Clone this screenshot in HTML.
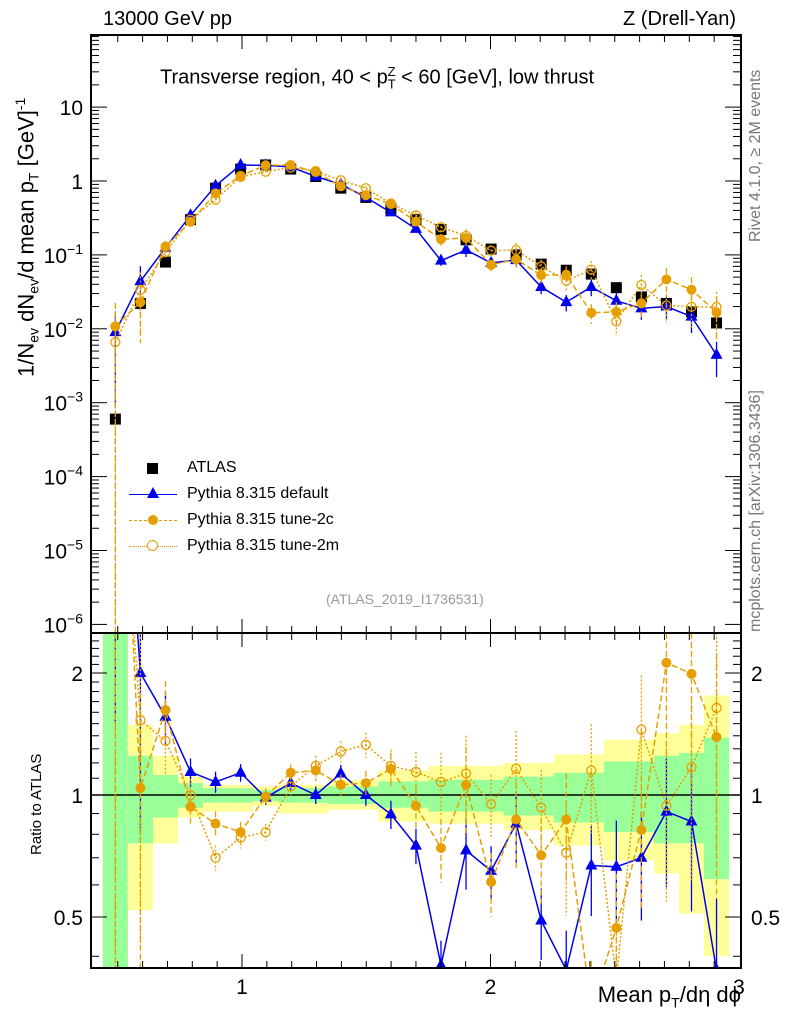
<!DOCTYPE html>
<html><head><meta charset="utf-8"><style>
html,body{margin:0;padding:0;background:#fff;width:786px;height:1024px;overflow:hidden;position:relative}
svg{font-family:"Liberation Sans",sans-serif;display:block;position:absolute;left:0;top:0;overflow:hidden}
</style></head><body>
<svg id="c" width="786" height="1024"></svg>
<script>
const atlas=[6e-4,0.022,0.08,0.30,0.80,1.45,1.65,1.45,1.15,0.80,0.60,0.42,0.30,0.22,0.16,0.12,0.10,0.075,0.062,0.055,0.036,0.027,0.022,0.017,0.012];
const rDefault=[15,2.0,1.56,1.14,1.077,1.135,0.985,1.07,1.0,1.13,1.0,0.896,0.75,0.38,0.73,0.65,0.85,0.49,0.37,0.67,0.665,0.70,0.91,0.86,0.37];
const r2c=[18,1.04,1.62,0.935,0.85,0.81,0.99,1.135,1.15,1.06,1.07,1.16,0.94,0.74,1.06,0.61,0.87,0.71,0.87,0.3,0.47,0.82,2.12,1.99,1.39];
const r2m=[11,1.53,1.36,1.0,0.70,0.785,0.81,1.05,1.18,1.28,1.33,1.18,1.14,1.077,1.13,0.95,1.16,0.93,0.72,1.15,0.35,1.45,0.94,1.17,1.64];
const errFrac=[0.9,0.6,0.15,0.08,0.06,0.05,0.04,0.04,0.05,0.05,0.06,0.08,0.1,0.15,0.2,0.15,0.2,0.2,0.25,0.25,0.3,0.3,0.35,0.4,0.5];
const yelUp=[10,1.49,1.25,1.11,1.06,1.06,1.05,1.06,1.06,1.09,1.09,1.15,1.15,1.18,1.18,1.18,1.20,1.20,1.26,1.26,1.37,1.37,1.42,1.49,1.76];
const yelDn=[0.1,0.52,0.76,0.88,0.91,0.91,0.94,0.90,0.90,0.92,0.92,0.86,0.86,0.85,0.85,0.85,0.82,0.82,0.75,0.75,0.69,0.69,0.64,0.51,0.40];
const grnUp=[10,1.25,1.12,1.07,1.04,1.04,1.03,1.04,1.04,1.05,1.05,1.08,1.08,1.09,1.09,1.09,1.11,1.11,1.135,1.135,1.21,1.21,1.25,1.27,1.385];
const grnDn=[0.1,0.76,0.88,0.93,0.957,0.957,0.966,0.957,0.957,0.95,0.95,0.93,0.93,0.91,0.91,0.91,0.89,0.89,0.855,0.855,0.81,0.81,0.76,0.76,0.62];
const binLo=0.44, binW=0.1008;
const xTicks=[1,2,3];
const yMainTicks=[-6,-5,-4,-3,-2,-1,0,1];
const yMainLabels=["10<tspan dy='-9' font-size='14'>−6</tspan>","10<tspan dy='-9' font-size='14'>−5</tspan>","10<tspan dy='-9' font-size='14'>−4</tspan>","10<tspan dy='-9' font-size='14'>−3</tspan>","10<tspan dy='-9' font-size='14'>−2</tspan>","10<tspan dy='-9' font-size='14'>−1</tspan>","1","10"];
const rTicks=[0.5,1,2];

const L=91,R=741,T=35,MB=633,RB=968;
const X=v=>242+(v-1)*248.5;
const Y=v=>181-Math.log10(v)*73.9;
const YR=v=>795-Math.log2(v)*122;
const svg=document.getElementById('c');
const NS='http://www.w3.org/2000/svg';
function el(t,a,p){const e=document.createElementNS(NS,t);for(const k in a)e.setAttribute(k,a[k]);(p||svg).appendChild(e);return e;}
const cx=i=>X(binLo+binW*(i+0.5));
const clampY=(y,lo,hi)=>Math.min(hi,Math.max(lo,y));

const defs=el('defs',{});
const c1=el('clipPath',{id:'cm'},defs);el('rect',{x:L,y:T,width:R-L,height:MB-T},c1);
const c2=el('clipPath',{id:'cr'},defs);el('rect',{x:L,y:MB,width:R-L,height:RB-MB},c2);

const gb=el('g',{'clip-path':'url(#cr)'});


atlas.forEach((_,i)=>{
 const x0=X(binLo+binW*i),x1=X(binLo+binW*(i+1));
 const yu=clampY(YR(yelUp[i]),MB,RB),yd=clampY(YR(yelDn[i]),MB,RB);
 const ry=el('rect',{x:x0,y:yu,width:x1-x0,height:yd-yu,fill:'#ffff99'},gb);
 
 
 const gu=clampY(YR(grnUp[i]),MB,RB),gd=clampY(YR(grnDn[i]),MB,RB);
 const rg=el('rect',{x:x0,y:gu,width:x1-x0,height:gd-gu,fill:'#99ff99'},gb);
 
 
});
el('line',{x1:L,x2:R,y1:YR(1),y2:YR(1),stroke:'#000','stroke-width':1.5});

const series=[
 {r:rDefault,col:'#0000ee',dash:'',mk:'tri',name:'pythia-default'},
 {r:r2c,col:'#e69f00',dash:'6,3',mk:'dot',name:'pythia-tune-2c'},
 {r:r2m,col:'#e69f00',dash:'2,2',mk:'ring',name:'pythia-tune-2m'}];
function marker(g,t,x,y,col){
 if(t==='tri')return el('path',{d:`M${x},${y-7}L${x+6},${y+4}L${x-6},${y+4}Z`,fill:col},g);
 if(t==='dot')return el('circle',{cx:x,cy:y,r:5,fill:col},g);
 return el('circle',{cx:x,cy:y,r:4.5,fill:'none',stroke:col,'stroke-width':1.3},g);
}
function drawPanel(clip,yf,valf,isRatio,lo,hi){
 const g=el('g',{'clip-path':`url(#${clip})`});
 
 
 series.forEach(s=>{
  const sg=el('g',{},g);
  
  
  const vals=s.r.map((r,i)=>valf(r,i));
  const pts=vals.map((v,i)=>[cx(i),yf(v)]);
  // clip segment endpoints to a band around panel by linear interpolation (keeps slope)
  const LO=lo-300,HI=hi+300;
  let d='';
  pts.forEach((p,i)=>{
   let [x,y]=p;
   if(y<LO||y>HI){
    const q=pts[i>0?i-1:i+1];
    const tgt=y<LO?LO:HI;
    if(q&&q[1]!==y){const t=(tgt-q[1])/(y-q[1]);x=q[0]+(x-q[0])*t;}
    y=tgt;
   }
   d+=(i?'L':'M')+x+','+y;
  });
  el('path',{d,fill:'none',stroke:s.col,'stroke-width':1.5,'stroke-dasharray':s.dash},sg);
  vals.forEach((v,i)=>{
   const e=errFrac[i]*(s.mk==='tri'?1:1.2);
   el('line',{x1:cx(i),x2:cx(i),y1:clampY(yf(v*(1+e)),lo,hi),y2:clampY(yf(Math.max(v*(1-e),1e-9)),lo,hi),stroke:s.col,'stroke-width':1.3,'stroke-dasharray':s.dash},sg);
   const yy=yf(v);
   if(yy<lo-10||yy>hi+10)return;
   const m=marker(sg,s.mk,cx(i),yy,s.col);
   
   
  });
 });
 return g;
}
const ga=el('g',{'clip-path':'url(#cm)'});


atlas.forEach((v,i)=>{
 const r=el('rect',{x:cx(i)-5.5,y:Y(v)-5.5,width:11,height:11,fill:'#000'},ga);
 
 
});
drawPanel('cm',Y,(r,i)=>atlas[i]*r,false,T,MB);
drawPanel('cr',YR,(r)=>r,true,MB,RB);

el('rect',{x:L,y:T,width:R-L,height:MB-T,fill:'none',stroke:'#000','stroke-width':2});
el('rect',{x:L,y:MB,width:R-L,height:RB-MB,fill:'none',stroke:'#000','stroke-width':2});
const minorX=[];for(let v=0.5;v<=2.95;v+=0.1)minorX.push(+v.toFixed(2));
minorX.forEach(v=>{const maj=Math.abs(v-Math.round(v))<1e-6;const h=maj?14:7;
 [[T,1],[MB,-1],[MB,1],[RB,-1]].forEach(([y0,s])=>el('line',{x1:X(v),x2:X(v),y1:y0,y2:y0+s*h,stroke:'#000','stroke-width':1}));});
xTicks.forEach(v=>{const t=el('text',{x:X(v),y:RB+26,'text-anchor':'middle','font-size':21});t.textContent=v;
 });
yMainTicks.forEach((p,k)=>{
 const y=Y(Math.pow(10,p));
 el('line',{x1:L,x2:L+16,y1:y,y2:y,stroke:'#000'});el('line',{x1:R,x2:R-16,y1:y,y2:y,stroke:'#000'});
 for(let m=2;m<=9;m++){const yy=Y(m*Math.pow(10,p));if(yy<T)break;
  el('line',{x1:L,x2:L+8,y1:yy,y2:yy,stroke:'#000'});el('line',{x1:R,x2:R-8,y1:yy,y2:yy,stroke:'#000'});}
 const t=el('text',{x:L-8,y:y+8,'text-anchor':'end','font-size':21});t.innerHTML=yMainLabels[k];
 
});
for(let v=0.4;v<=2.5;v+=0.1){const y=YR(v);if(y<MB||y>RB)continue;
 const maj=rTicks.some(t=>Math.abs(t-v)<1e-6);const h=maj?16:8;
 el('line',{x1:L,x2:L+h,y1:y,y2:y,stroke:'#000'});el('line',{x1:R,x2:R-h,y1:y,y2:y,stroke:'#000'});}
rTicks.forEach(v=>{[[L-8,'end'],[R+10,'start']].forEach(([x,a])=>{const t=el('text',{x,y:YR(v)+8,'text-anchor':a,'font-size':21});t.textContent=v;
 });});
</script>
<div style="position:absolute;left:0;top:0;width:786px;height:1024px;overflow:hidden;font-family:'Liberation Sans',sans-serif;color:#000">
<div style="position:absolute;left:103px;top:8px;font-size:20px">13000 GeV pp</div>
<div style="position:absolute;right:50px;top:8px;font-size:20px">Z (Drell-Yan)</div>
<div style="position:absolute;left:160px;top:64px;font-size:20px;white-space:nowrap">Transverse region, 40 &lt; p<sub style="font-size:13px">T</sub><sup style="font-size:13px;margin-left:-8px">Z</sup> &lt; 60 [GeV], low thrust</div>
<div style="position:absolute;left:747px;top:242px;transform:rotate(-90deg);transform-origin:0 0;font-size:16px;color:#777;white-space:nowrap">Rivet 4.1.0, ≥ 2M events</div>
<div style="position:absolute;left:747px;top:632px;transform:rotate(-90deg);transform-origin:0 0;font-size:16px;color:#777;white-space:nowrap">mcplots.cern.ch [arXiv:1306.3436]</div>
<div style="position:absolute;left:12px;top:377px;transform:rotate(-90deg);transform-origin:0 0;font-size:22px;white-space:nowrap">1/N<sub style="font-size:14px">ev</sub> dN<sub style="font-size:14px">ev</sub>/d mean p<sub style="font-size:14px">T</sub> [GeV]<sup style="font-size:14px">-1</sup></div>
<div style="position:absolute;left:28px;top:855px;transform:rotate(-90deg);transform-origin:0 0;font-size:15px;white-space:nowrap">Ratio to ATLAS</div>
<div style="position:absolute;right:45px;top:982px;font-size:22px;line-height:26px;white-space:nowrap">Mean p<sub style="font-size:14px;line-height:0">T</sub>/dη dϕ</div>
<div style="position:absolute;left:326px;top:591px;font-size:14px;color:#999">(ATLAS_2019_I1736531)</div>
<div style="position:absolute;left:125px;top:455px;font-size:16px;line-height:26px">
<div style="position:relative;padding-left:62px;height:26px"><span style="position:absolute;left:22px;top:8px;width:11px;height:11px;background:#000"></span>ATLAS</div>
<div style="position:relative;padding-left:62px;height:26px"><span style="position:absolute;left:4px;top:13px;width:48px;border-top:1.5px solid #0000ee"></span><span style="position:absolute;left:22px;top:6px;border-left:6px solid transparent;border-right:6px solid transparent;border-bottom:11px solid #0000ee"></span>Pythia 8.315 default</div>
<div style="position:relative;padding-left:62px;height:26px"><span style="position:absolute;left:4px;top:13px;width:48px;border-top:1.5px dashed #e69f00"></span><span style="position:absolute;left:23px;top:8px;width:10px;height:10px;border-radius:50%;background:#e69f00"></span>Pythia 8.315 tune-2c</div>
<div style="position:relative;padding-left:62px;height:26px"><span style="position:absolute;left:4px;top:13px;width:48px;border-top:1.5px dotted #e69f00"></span><span style="position:absolute;left:22px;top:7px;width:9px;height:9px;border-radius:50%;border:1.5px solid #e69f00;background:#fff"></span>Pythia 8.315 tune-2m</div>
</div>
</div>
</body></html>
